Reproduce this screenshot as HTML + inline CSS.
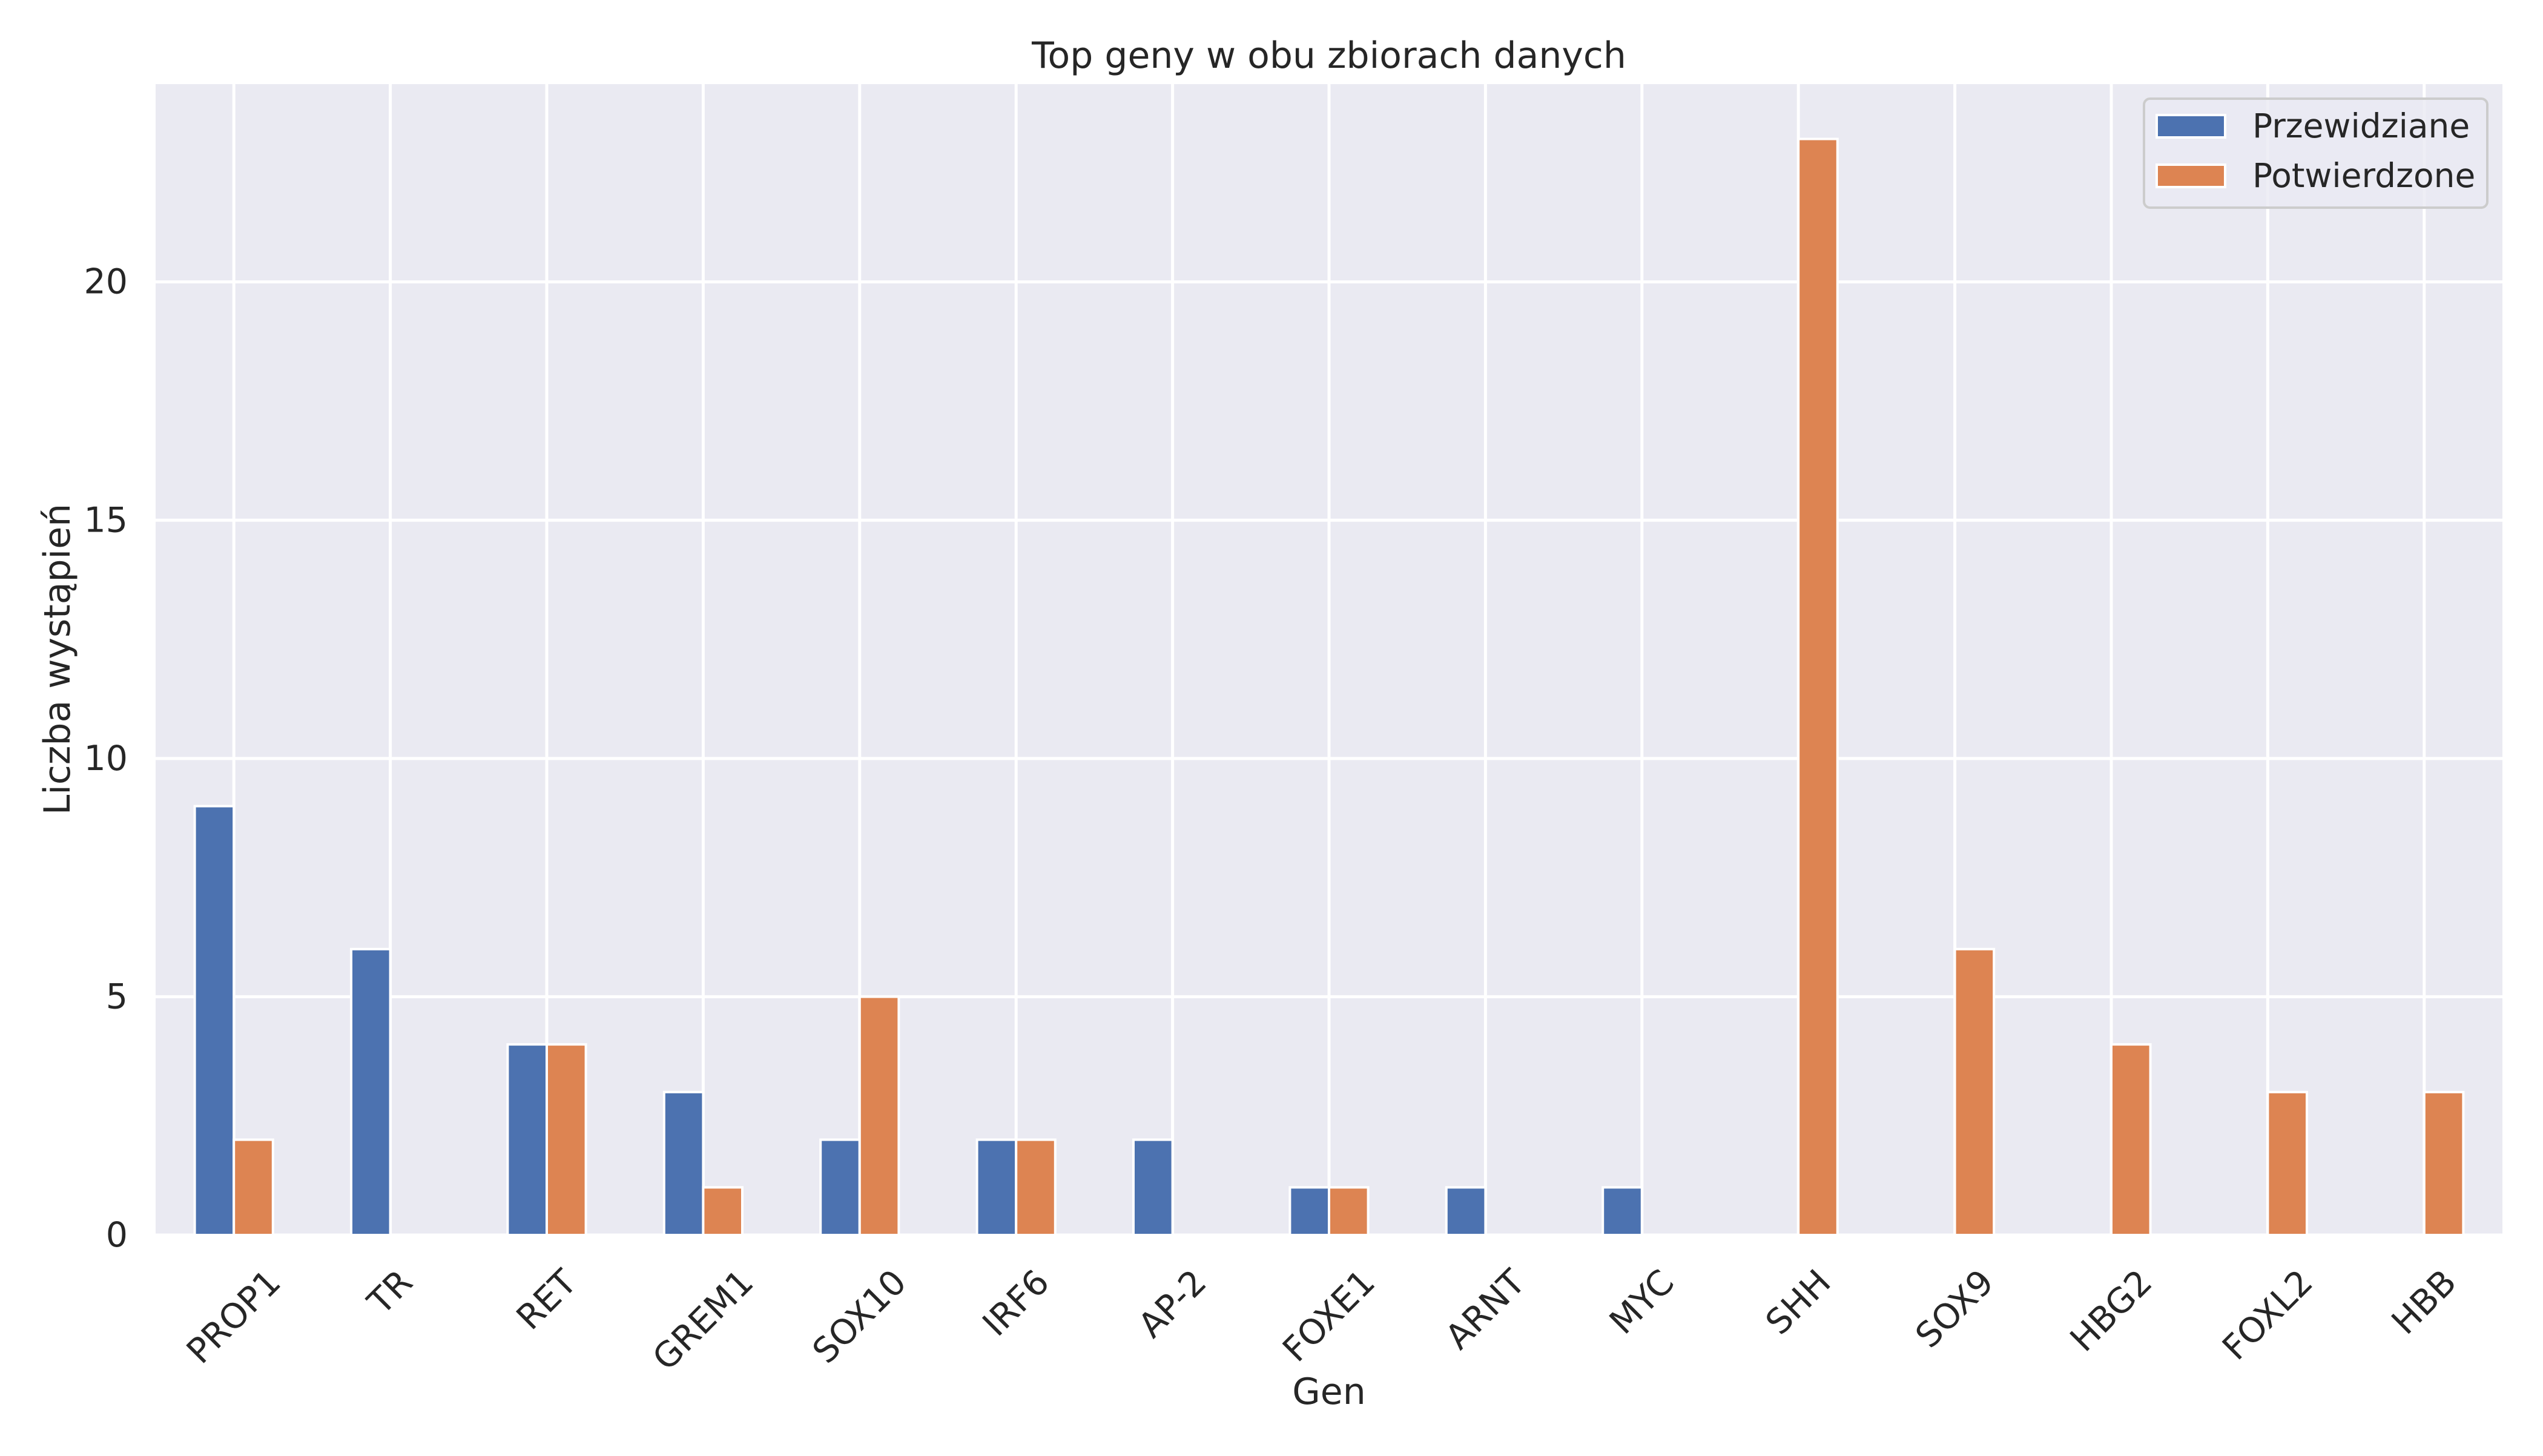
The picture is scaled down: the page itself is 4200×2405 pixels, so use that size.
<!DOCTYPE html>
<html><head><meta charset="utf-8"><style>
html,body{margin:0;padding:0;background:#fff;}
svg text{font-family:"DejaVu Sans","Liberation Sans",sans-serif;fill:#262626;}
</style></head><body>
<svg id="chart" width="4200" height="2400" viewBox="0 0 4200 2400" xmlns="http://www.w3.org/2000/svg">
<rect x="257" y="139" width="3876" height="1901" fill="#eaeaf2"/>
<g id="grid"></g>
<g id="bars"></g>
<g id="yticks"></g>
<g id="xticks"></g>
<text x="2195" y="112" font-size="60" text-anchor="middle">Top geny w obu zbiorach danych</text>
<text x="2195" y="2319" font-size="60" text-anchor="middle">Gen</text>
<text transform="translate(115,1089) rotate(-90)" font-size="60" text-anchor="middle">Liczba wystąpień</text>
<g>
<rect x="3541" y="163" width="567" height="180" rx="10" fill="#eaeaf2" fill-opacity="0.8" stroke="#cccccc" stroke-width="4"/>
<rect x="3562" y="190" width="113" height="37" fill="#4c72b0" stroke="#fff" stroke-width="4"/>
<text x="3720" y="227" font-size="55">Przewidziane</text>
<rect x="3562" y="272" width="113" height="37" fill="#dd8452" stroke="#fff" stroke-width="4"/>
<text x="3720" y="309" font-size="55">Potwierdzone</text>
</g>
</svg>
<script>
const categories = ["PROP1","TR","RET","GREM1","SOX10","IRF6","AP-2","FOXE1","ARNT","MYC","SHH","SOX9","HBG2","FOXL2","HBB"];
const przewidziane = [9,6,4,3,2,2,2,1,1,1,0,0,0,0,0];
const potwierdzone = [2,0,4,1,5,2,0,1,0,0,23,6,4,3,3];
const yTicks = [0,5,10,15,20];

const NS = "http://www.w3.org/2000/svg";
const L = 257, R = 4133, T = 139, B = 2040;
const yMax = 24.15;
const xScale = v => L + (v + 0.5) * (R - L) / categories.length;
const yScale = v => B - v * (B - T) / yMax;
function mk(tag, attrs, parent) {
  const e = document.createElementNS(NS, tag);
  for (const k in attrs) e.setAttribute(k, attrs[k]);
  parent.appendChild(e);
  return e;
}
const grid = document.getElementById('grid');
const bars = document.getElementById('bars');
const yt = document.getElementById('yticks');
const xt = document.getElementById('xticks');

yTicks.forEach(t => {
  const y = yScale(t);
  const g = mk('line', {x1: L, x2: R, y1: y, y2: y, stroke: '#fff', 'stroke-width': 5}, grid);
  
  
  const tx = mk('text', {x: 211, y: y, 'font-size': 57, 'text-anchor': 'end', 'dominant-baseline': 'central'}, yt);
  tx.textContent = t;
  
  
});

const unit = (R - L) / categories.length;
const bw = 0.25 * unit;
categories.forEach((c, i) => {
  const cx = xScale(i);
  const g = mk('line', {x1: cx, x2: cx, y1: T, y2: B, stroke: '#fff', 'stroke-width': 5}, grid);
  
  
  [[przewidziane, '#4c72b0', -1, 'przewidziane'], [potwierdzone, '#dd8452', 0, 'potwierdzone']].forEach(([arr, col, off, nm]) => {
    const v = arr[i];
    if (v <= 0) return;
    const r = mk('rect', {x: cx + off * bw, y: yScale(v), width: bw, height: B - yScale(v), fill: col, stroke: '#fff', 'stroke-width': 4}, bars);
    
    
  });
  const tx = mk('text', {x: 0, y: 0, 'font-size': 57, 'text-anchor': 'middle', 'dominant-baseline': 'central'}, xt);
  tx.textContent = c;
  
  
  const w = tx.getComputedTextLength();
  const h = 57;
  const half = (w + h) * Math.SQRT1_2 / 2;
  tx.setAttribute('transform', 'translate(' + cx + ',' + (2088 + half) + ') rotate(-45)');
});
</script>
</body></html>
